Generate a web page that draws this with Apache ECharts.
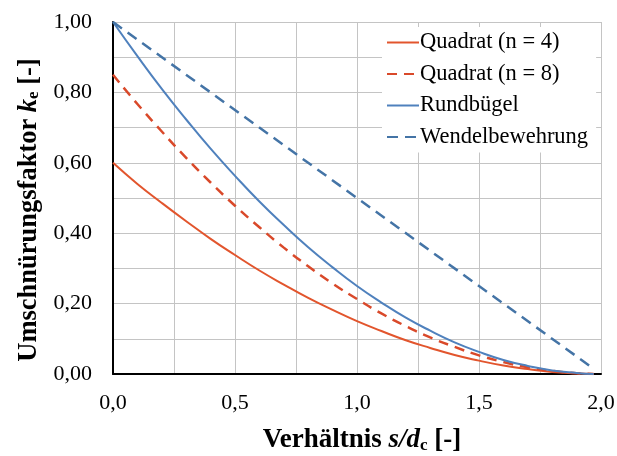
<!DOCTYPE html>
<html>
<head>
<meta charset="utf-8">
<script src="https://cdn.jsdelivr.net/npm/echarts@6/dist/echarts.min.js"></script>
<style>html,body{margin:0;padding:0;background:#fff}#c{width:617px;height:456px}</style>
</head>
<body>
<div id="c"></div>
<script>
var xs = [0,0.1,0.2,0.3,0.4,0.5,0.6,0.7,0.8,0.9,1.0,1.1,1.2,1.3,1.4,1.5,1.6,1.7,1.8,1.9,1.97];
var quadrat4 = [0.60,0.54,0.486,0.434,0.384,0.338,0.294,0.254,0.216,0.182,0.150,0.122,0.096,0.074,0.054,0.038,0.024,0.014,0.006,0.002,0];
var quadrat8 = [0.85,0.767,0.689,0.614,0.544,0.478,0.417,0.359,0.306,0.257,0.213,0.172,0.136,0.104,0.077,0.053,0.034,0.019,0.009,0.002,0];
var rundbuegel = [1.00,0.903,0.81,0.723,0.64,0.563,0.49,0.423,0.36,0.303,0.25,0.203,0.16,0.123,0.09,0.063,0.04,0.023,0.01,0.003,0];
var wendelX = [0,1.0,1.97];
var wendel = [1.00,0.50,0.015];
var names = ['Quadrat (n = 4)','Quadrat (n = 8)','Rundbügel','Wendelbewehrung'];

function pairs(x, y){ return x.map(function(v,i){return [v,y[i]];}); }
var serif = '"Liberation Serif","Times New Roman",serif';
var chart = echarts.init(document.getElementById('c'), null, {renderer:'canvas'});
chart.setOption({
  animation:false,
  backgroundColor:'#fff',
  grid:{left:113,right:16,top:22,bottom:82,containLabel:false,outerBoundsMode:'none'},
  legend:{
    left:382, top:27, orient:'vertical', itemWidth:32, itemHeight:12, itemGap:8.5,
    backgroundColor:'#fff', padding:[4,8,4,4],
    itemStyle:{opacity:0},
    textStyle:{fontFamily:serif,fontSize:22.5,color:'#000',padding:[0,0,0,-4]},
    data:names
  },
  xAxis:{
    type:'value', min:0, max:2, interval:0.25,
    axisLine:{lineStyle:{color:'#000',width:2}},
    axisTick:{show:false},
    splitLine:{lineStyle:{color:'#c4c4c4',width:1}},
    axisLabel:{margin:18,fontFamily:serif,fontSize:22,color:'#000',
      formatter:function(v){ return (Math.abs(v*2-Math.round(v*2))<1e-6)? v.toFixed(1).replace('.',','):''; }},
    name:'{b|Verhältnis }{bi|s/d}{sub|c}{b| [-]}',
    nameLocation:'middle', nameGap:53,
    nameTextStyle:{padding:[0,0,0,10],rich:{
      b:{fontFamily:serif,fontSize:27,fontWeight:'bold',color:'#000'},
      bi:{fontFamily:serif,fontSize:27,fontWeight:'bold',fontStyle:'italic',color:'#000'},
      sub:{fontFamily:serif,fontSize:17,fontWeight:'bold',color:'#000',verticalAlign:'bottom',padding:[9,0,0,0]}
    }}
  },
  yAxis:{
    type:'value', min:0, max:1, interval:0.1,
    axisLine:{show:true,lineStyle:{color:'#000',width:2}},
    axisTick:{show:false},
    splitLine:{lineStyle:{color:'#c4c4c4',width:1}},
    axisLabel:{margin:21,fontFamily:serif,fontSize:22,color:'#000',
      formatter:function(v){ return (Math.abs(v*5-Math.round(v*5))<1e-6)? v.toFixed(2).replace('.',','):''; }},
    name:'{b|Umschnürungsfaktor }{bi|k}{sub|e}{b| [-]}',
    nameLocation:'middle', nameGap:68, nameRotate:90,
    nameTextStyle:{padding:[0,24,0,0],rich:{
      b:{fontFamily:serif,fontSize:26.5,fontWeight:'bold',color:'#000'},
      bi:{fontFamily:serif,fontSize:26.5,fontWeight:'bold',fontStyle:'italic',color:'#000'},
      sub:{fontFamily:serif,fontSize:17,fontWeight:'bold',color:'#000',verticalAlign:'bottom',padding:[9,0,0,0]}
    }}
  },
  series:[
    {name:names[0],type:'line',smooth:true,symbol:'none',data:pairs(xs,quadrat4),
     lineStyle:{color:'#E2552D',width:2,type:'solid'},itemStyle:{color:'#E2552D'}},
    {name:names[1],type:'line',smooth:true,symbol:'none',data:pairs(xs,quadrat8),
     lineStyle:{color:'#D9492A',width:2.5,type:[10,7]},itemStyle:{color:'#D9492A'}},
    {name:names[2],type:'line',smooth:true,symbol:'none',data:pairs(xs,rundbuegel),
     lineStyle:{color:'#4F81BD',width:2,type:'solid'},itemStyle:{color:'#4F81BD'}},
    {name:names[3],type:'line',smooth:false,symbol:'none',data:pairs(wendelX,wendel),
     lineStyle:{color:'#4474A6',width:2.5,type:[11,7]},itemStyle:{color:'#4474A6'}}
  ]
});
</script>
</body>
</html>
